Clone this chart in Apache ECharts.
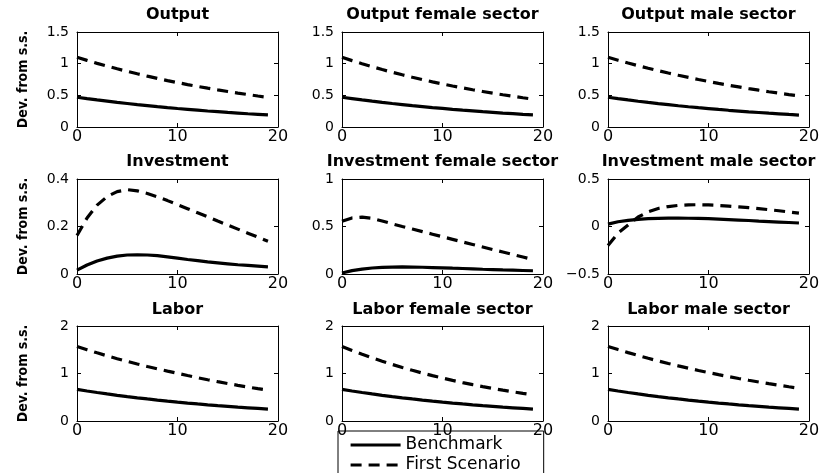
<!DOCTYPE html>
<html>
<head>
<meta charset="utf-8">
<script src="https://cdn.jsdelivr.net/npm/echarts@6/dist/echarts.min.js"></script>
<style>
  html, body { margin: 0; padding: 0; background: #fff; }
  #chart { width: 824px; height: 473px; }
</style>
</head>
<body>
<div id="chart"></div>
<script>
// Impulse responses, periods 0..19, deviation from steady state
const periods = [0, 1, 2, 3, 4, 5, 6, 7, 8, 9, 10, 11, 12, 13, 14, 15, 16, 17, 18, 19];

const outputBench = [0.47, 0.448, 0.427, 0.408, 0.389, 0.371, 0.353, 0.337, 0.321, 0.306, 0.292, 0.279, 0.266, 0.253, 0.242, 0.230, 0.220, 0.209, 0.200, 0.190];
const outputScen = [1.10, 1.052, 1.005, 0.961, 0.919, 0.878, 0.840, 0.803, 0.767, 0.733, 0.701, 0.670, 0.641, 0.613, 0.586, 0.560, 0.535, 0.512, 0.489, 0.468];
const outputFemaleBench = [0.47, 0.449, 0.428, 0.408, 0.389, 0.371, 0.354, 0.337, 0.322, 0.307, 0.293, 0.279, 0.266, 0.254, 0.242, 0.231, 0.220, 0.210, 0.200, 0.191];
const outputFemaleScen = [1.10, 1.048, 0.999, 0.952, 0.907, 0.865, 0.824, 0.785, 0.748, 0.713, 0.680, 0.648, 0.617, 0.588, 0.561, 0.534, 0.509, 0.485, 0.462, 0.440];
const outputMaleBench = [0.47, 0.448, 0.427, 0.407, 0.388, 0.370, 0.353, 0.336, 0.320, 0.305, 0.291, 0.277, 0.264, 0.252, 0.240, 0.229, 0.218, 0.208, 0.198, 0.189];
const outputMaleScen = [1.10, 1.054, 1.010, 0.968, 0.928, 0.889, 0.852, 0.817, 0.783, 0.750, 0.719, 0.689, 0.660, 0.633, 0.606, 0.581, 0.557, 0.534, 0.511, 0.490];

const investBench = [0.016, 0.038, 0.055, 0.067, 0.075, 0.080, 0.081, 0.080, 0.077, 0.072, 0.067, 0.061, 0.056, 0.051, 0.047, 0.043, 0.039, 0.036, 0.033, 0.030];
const investScen = [0.162, 0.236, 0.290, 0.326, 0.347, 0.355, 0.350, 0.339, 0.325, 0.309, 0.292, 0.275, 0.258, 0.241, 0.223, 0.206, 0.189, 0.172, 0.155, 0.138];
const investFemaleBench = [0.010, 0.035, 0.052, 0.063, 0.070, 0.073, 0.074, 0.073, 0.071, 0.068, 0.065, 0.061, 0.058, 0.054, 0.050, 0.047, 0.043, 0.040, 0.037, 0.034];
const investFemaleScen = [0.555, 0.590, 0.598, 0.585, 0.558, 0.528, 0.500, 0.473, 0.446, 0.419, 0.392, 0.365, 0.338, 0.311, 0.284, 0.257, 0.231, 0.205, 0.179, 0.153];
const investMaleBench = [0.025, 0.050, 0.065, 0.075, 0.082, 0.086, 0.088, 0.088, 0.087, 0.085, 0.082, 0.078, 0.073, 0.068, 0.063, 0.057, 0.052, 0.047, 0.042, 0.037];
const investMaleScen = [-0.20, -0.07, 0.015, 0.10, 0.155, 0.19, 0.21, 0.222, 0.228, 0.229, 0.227, 0.222, 0.215, 0.207, 0.198, 0.188, 0.177, 0.166, 0.153, 0.14];

const laborBench = [0.665, 0.632, 0.600, 0.570, 0.541, 0.514, 0.488, 0.464, 0.441, 0.419, 0.398, 0.378, 0.359, 0.341, 0.324, 0.308, 0.292, 0.278, 0.264, 0.250];
const laborScen = [1.57, 1.50, 1.435, 1.372, 1.312, 1.255, 1.200, 1.148, 1.098, 1.050, 1.003, 0.957, 0.912, 0.869, 0.828, 0.789, 0.751, 0.715, 0.681, 0.648];
const laborFemaleBench = [0.665, 0.632, 0.600, 0.570, 0.541, 0.514, 0.488, 0.464, 0.441, 0.419, 0.398, 0.378, 0.359, 0.341, 0.324, 0.308, 0.292, 0.278, 0.264, 0.250];
const laborFemaleScen = [1.57, 1.486, 1.406, 1.330, 1.259, 1.191, 1.127, 1.067, 1.009, 0.955, 0.904, 0.855, 0.809, 0.766, 0.725, 0.686, 0.649, 0.614, 0.581, 0.550];
const laborMaleBench = [0.665, 0.632, 0.600, 0.570, 0.541, 0.514, 0.488, 0.464, 0.441, 0.419, 0.398, 0.378, 0.359, 0.341, 0.324, 0.308, 0.292, 0.278, 0.264, 0.250];
const laborMaleScen = [1.57, 1.504, 1.440, 1.379, 1.320, 1.265, 1.211, 1.160, 1.111, 1.064, 1.019, 0.976, 0.935, 0.895, 0.857, 0.821, 0.786, 0.753, 0.721, 0.690];

const panelTitles = [
  'Output', 'Output female sector', 'Output male sector',
  'Investment', 'Investment female sector', 'Investment male sector',
  'Labor', 'Labor female sector', 'Labor male sector'
];
const benchSeries = [outputBench, outputFemaleBench, outputMaleBench, investBench, investFemaleBench, investMaleBench, laborBench, laborFemaleBench, laborMaleBench];
const scenSeries = [outputScen, outputFemaleScen, outputMaleScen, investScen, investFemaleScen, investMaleScen, laborScen, laborFemaleScen, laborMaleScen];
// y-axis ranges: [min, max, interval]
const yRanges = [
  [0, 1.5, 0.5], [0, 1.5, 0.5], [0, 1.5, 0.5],
  [0, 0.4, 0.2], [0, 1, 0.5], [-0.5, 0.5, 0.5],
  [0, 2, 1], [0, 2, 1], [0, 2, 1]
];
const xTicks = [0, 20, 10];
const yAxisTitle = 'Dev. from s.s.';
const legendNames = ['Benchmark', 'First Scenario'];

// layout
const colLeft = [77, 342, 608];
const rowTop = [32, 179, 326];
const plotW = 201;
const plotH = 95;
const titleTop = [7, 154, 302];

const FONT = "'DejaVu Sans', sans-serif";
const NARROW = "'Liberation Sans Narrow', 'DejaVu Sans Condensed', sans-serif";
const LINE_W = 3.2;
const DASH = [11, 7];

const grids = [], xAxes = [], yAxes = [], series = [], titles = [];

panelTitles.forEach((name, i) => {
  const r = Math.floor(i / 3), c = i % 3;
  grids.push({ left: colLeft[c], top: rowTop[r], width: plotW, height: plotH, containLabel: false });
  titles.push({
    text: name,
    left: colLeft[c] + plotW / 2,
    top: titleTop[r],
    textAlign: 'center',
    padding: 0,
    textStyle: { fontFamily: FONT, fontSize: 16, fontWeight: 'bold', color: '#000' }
  });
  const axisLine = { show: true, onZero: false, lineStyle: { color: '#000', width: 1 } };
  const tick = { show: true, inside: true, length: 4, lineStyle: { color: '#000' } };
  xAxes.push({
    gridIndex: i, type: 'value', position: 'bottom',
    min: xTicks[0], max: xTicks[1], interval: xTicks[2],
    axisLine, axisTick: tick, splitLine: { show: false },
    axisLabel: { color: '#000', fontFamily: FONT, fontSize: 16, margin: 2 }
  });
  xAxes.push({
    gridIndex: i, type: 'value', position: 'top',
    min: xTicks[0], max: xTicks[1], interval: xTicks[2],
    axisLine, axisTick: tick, splitLine: { show: false }, axisLabel: { show: false }
  });
  const [ymin, ymax, yint] = yRanges[i];
  yAxes.push({
    gridIndex: i, type: 'value', position: 'left',
    min: ymin, max: ymax, interval: yint,
    axisLine, axisTick: tick, splitLine: { show: false },
    axisLabel: {
      color: '#000', fontFamily: FONT, fontSize: 14, margin: 8,
      formatter: v => String(v).replace('-', '\u2212')
    },
    name: c === 0 ? yAxisTitle : '',
    nameLocation: 'middle', nameRotate: 90, nameGap: 47,
    nameTextStyle: { fontFamily: NARROW, fontSize: 14, fontWeight: 'bold', color: '#000' }
  });
  yAxes.push({
    gridIndex: i, type: 'value', position: 'right',
    min: ymin, max: ymax, interval: yint,
    axisLine, axisTick: tick, splitLine: { show: false }, axisLabel: { show: false }
  });
  series.push({
    name: legendNames[0], type: 'line', xAxisIndex: 2 * i, yAxisIndex: 2 * i,
    data: periods.map((t, k) => [t, benchSeries[i][k]]),
    symbol: 'none', color: '#000',
    lineStyle: { color: '#000', width: LINE_W, type: 'solid' }
  });
  series.push({
    name: legendNames[1], type: 'line', xAxisIndex: 2 * i, yAxisIndex: 2 * i,
    data: periods.map((t, k) => [t, scenSeries[i][k]]),
    symbol: 'none', color: '#000',
    lineStyle: { color: '#000', width: LINE_W, type: DASH }
  });
});

const chart = echarts.init(document.getElementById('chart'), null, { renderer: 'canvas' });
chart.setOption({
  backgroundColor: '#fff',
  animation: false,
  title: titles,
  grid: grids,
  xAxis: xAxes,
  yAxis: yAxes,
  legend: {
    data: legendNames,
    orient: 'vertical',
    left: 338,
    top: 431,
    height: 60,
    itemWidth: 50,
    itemHeight: 14,
    itemGap: 0,
    padding: [4, 23, 20, 11],
    borderColor: '#000',
    borderWidth: 1,
    backgroundColor: 'transparent',
    itemStyle: { opacity: 0 },
    lineStyle: { width: LINE_W },
    textStyle: { fontFamily: FONT, fontSize: 17, color: '#000', lineHeight: 20 }
  },
  series
});
</script>
</body>
</html>
